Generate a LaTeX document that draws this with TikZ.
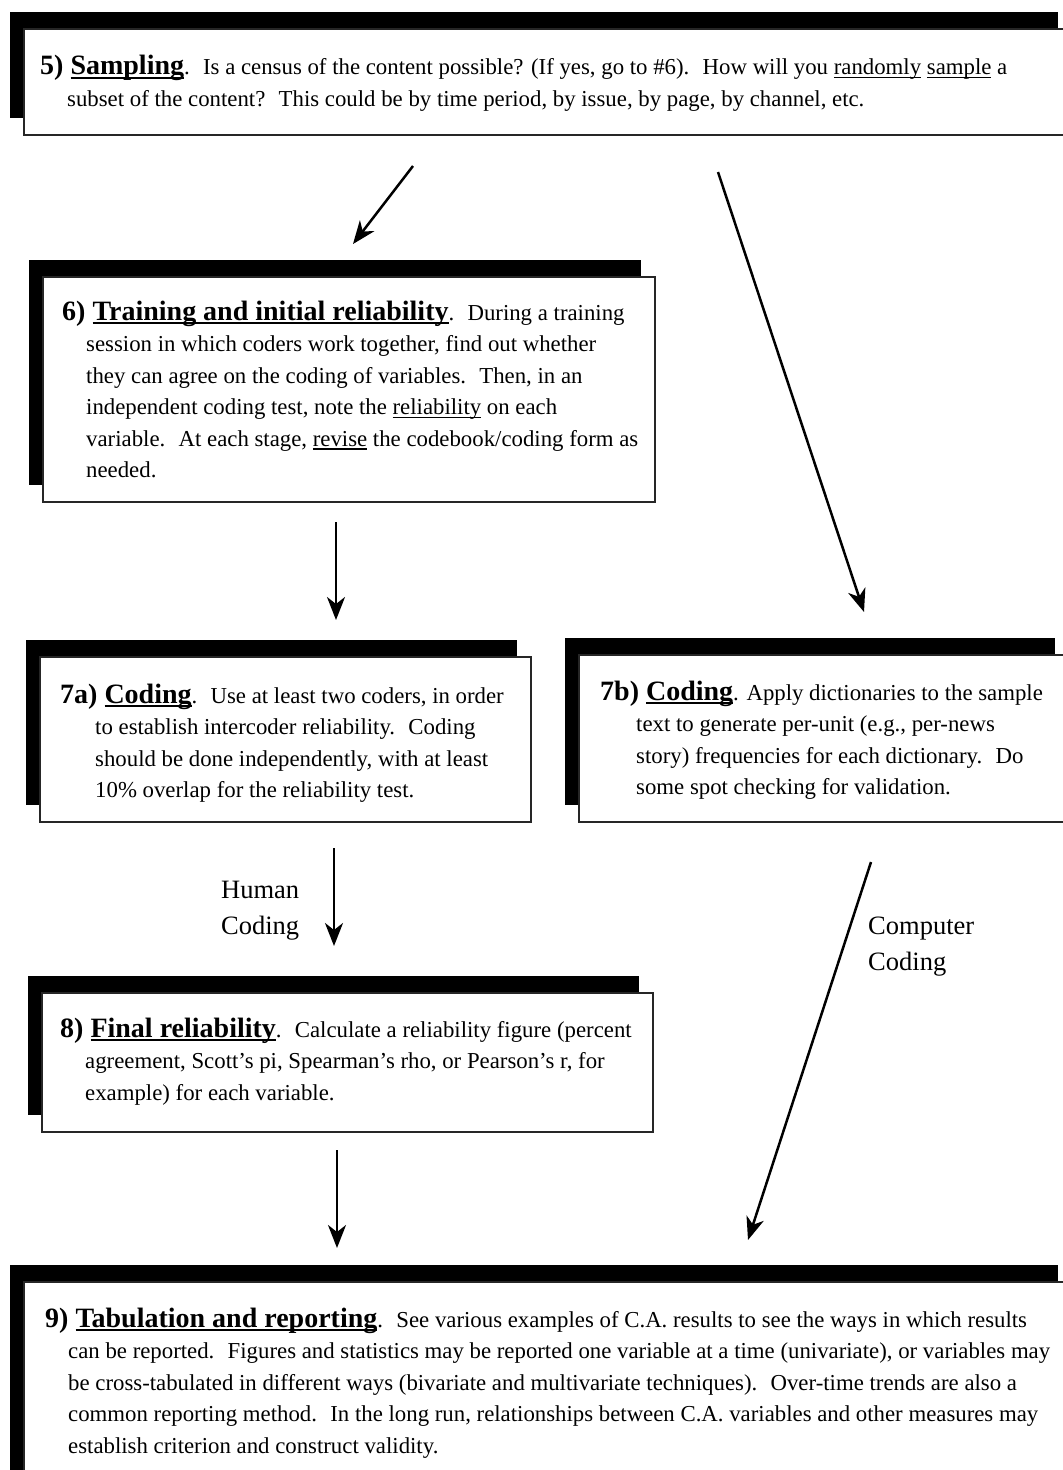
\documentclass[tikz,border=0pt]{standalone}
\usepackage{fontspec}
\setmainfont{Liberation Serif}
\usetikzlibrary{arrows.meta,backgrounds}

\newsavebox{\ulbox}
\newcommand{\myul}[3]{\sbox{\ulbox}{#3}\rlap{\usebox{\ulbox}}\rule[-#1]{\wd\ulbox}{#2}}
\newcommand{\ttl}[1]{{\fontsize{28}{31.5}\selectfont\bfseries #1}}
\newcommand{\tu}[1]{\myul{4pt}{2pt}{#1}}
\newcommand{\bu}[1]{\myul{3.5pt}{1.2pt}{#1}}
\newcommand{\txtlines}[1]{\begin{tabular}[t]{@{}l@{}}#1\end{tabular}}

\begin{document}
\begin{tikzpicture}[x=1pt,y=-1pt,
  box/.style={draw=black!85, line width=1.2pt, fill=white, inner sep=0pt, outer sep=0pt, anchor=north west},
  txt/.style={inner sep=0pt, anchor=base west, font=\fontsize{22.8}{31.5}\selectfont},
  lbl/.style={inner sep=0pt, anchor=base west, font=\fontsize{26.5}{36}\selectfont},
  arr/.style={line width=2.5pt, -{Stealth[length=23pt,width=18pt,inset=7pt]}}]

\useasboundingbox (0,0) rectangle (1063,1470);

% boxes
\node[box, minimum width=1048pt, minimum height=106pt] (b5)  at (24,29) {};
\node[box, minimum width=612pt,  minimum height=225pt] (b6)  at (43,277) {};
\node[box, minimum width=491pt,  minimum height=165pt] (b7a) at (40,657) {};
\node[box, minimum width=490pt,  minimum height=167pt] (b7b) at (579,655) {};
\node[box, minimum width=611pt,  minimum height=139pt] (b8)  at (42,993) {};
\node[box, minimum width=1048pt, minimum height=220pt] (b9)  at (24,1282) {};

\begin{scope}[on background layer]
  \fill[white] (0,0) rectangle (1063,1470);
  \foreach \n in {b5,b6,b7a,b7b,b8,b9}
    \fill[black] ([shift={(-14,-17)}]\n.north west) rectangle ([shift={(-14,-17)}]\n.south east);
\end{scope}

% texts
\node[txt] (t5) at (67,74.5) {\txtlines{%
\hspace*{-27pt}\ttl{5) \tu{Sampling}}.~ Is a census of the content possible? (If yes, go to \#6).~ How will you \bu{randomly} \bu{sample} a\\
subset of the content?~ This could be by time period, by issue, by page, by channel, etc.}};

\node[txt] (t6) at (86,320) {\txtlines{%
\hspace*{-24pt}\ttl{6) \tu{Training and initial reliability}}.~ During a training\\
session in which coders work together, find out whether\\
they can agree on the coding of variables.~ Then, in an\\
independent coding test, note the \bu{reliability} on each\\
variable.~ At each stage, \bu{revise} the codebook/coding form as\\
needed.}};

\node[txt] (t7a) at (95,703) {\txtlines{%
\hspace*{-35pt}\ttl{7a) \tu{Coding}}.~ Use at least two coders, in order\\
to establish intercoder reliability.~ Coding\\
should be done independently, with at least\\
10\% overlap for the reliability test.}};

\node[txt] (t7b) at (636,700) {\txtlines{%
\hspace*{-36pt}\ttl{7b) \tu{Coding}}. Apply dictionaries to the sample\\
text to generate per-unit (e.g., per-news\\
story) frequencies for each dictionary.~ Do\\
some spot checking for validation.}};

\node[txt] (t8) at (85,1037) {\txtlines{%
\hspace*{-25pt}\ttl{8) \tu{Final reliability}}.~ Calculate a reliability figure (percent\\
agreement, Scott’s pi, Spearman’s rho, or Pearson’s r, for\\
example) for each variable.}};

\node[txt] (t9) at (68,1327) {\txtlines{%
\hspace*{-23pt}\ttl{9) \tu{Tabulation and reporting}}.~ See various examples of C.A. results to see the ways in which results\\
can be reported.~ Figures and statistics may be reported one variable at a time (univariate), or variables may\\
be cross-tabulated in different ways (bivariate and multivariate techniques).~ Over-time trends are also a\\
common reporting method.~ In the long run, relationships between C.A. variables and other measures may\\
establish criterion and construct validity.}};

% labels
\node[lbl] (lh) at (221,898) {\txtlines{Human\\Coding}};
\node[lbl] (lc) at (868,934) {\txtlines{Computer\\Coding}};

% arrows
\coordinate (a1s) at (413,166); \coordinate (a1e) at (353,244);
\coordinate (a2s) at (718,172); \coordinate (a2e) at (864,612);
\coordinate (a3s) at (336,522); \coordinate (a3e) at (336,620);
\coordinate (a4s) at (334,848); \coordinate (a4e) at (334,946);
\coordinate (a5s) at (871,862); \coordinate (a5e) at (748,1240);
\coordinate (a6s) at (337,1150); \coordinate (a6e) at (337,1248);
\draw[arr] (a1s) -- (a1e);
\draw[arr] (a2s) -- (a2e);
\draw[arr] (a3s) -- (a3e);
\draw[arr] (a4s) -- (a4e);
\draw[arr] (a5s) -- (a5e);
\draw[arr] (a6s) -- (a6e);
\end{tikzpicture}
\end{document}
